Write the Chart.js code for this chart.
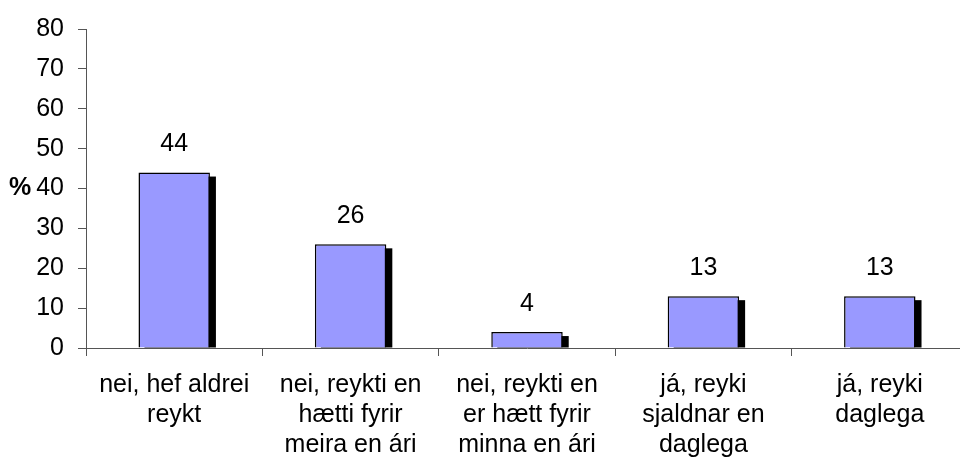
<!DOCTYPE html>
<html>
<head>
<meta charset="utf-8">
<script src="https://cdn.jsdelivr.net/npm/chart.js@4"></script>
<style>
  html, body { margin: 0; padding: 0; background: #fff; overflow: hidden; }
  #wrap { width: 968px; height: 464px; }
</style>
</head>
<body>
<div id="wrap"><canvas id="smoke_chart"></canvas></div>
<script>
var categories = [
    ['nei, hef aldrei', 'reykt'],
    ['nei, reykti en', 'hætti fyrir', 'meira en ári'],
    ['nei, reykti en', 'er hætt fyrir', 'minna en ári'],
    ['já, reyki', 'sjaldnar en', 'daglega'],
    ['já, reyki', 'daglega']
];
var values = [44, 26, 4, 13, 13];
var yTicks = [0, 10, 20, 30, 40, 50, 60, 70, 80];

var font = 'Liberation Sans, Arial, sans-serif';

// black drop shadow behind each bar
var shadowPlugin = {
    id: 'shadow',
    beforeDatasetsDraw: function (chart) {
        var c = chart.ctx;
        c.save();
        c.fillStyle = '#000';
        chart.getDatasetMeta(0).data.forEach(function (bar) {
            var left = bar.x - bar.width / 2;
            c.fillRect(left + 6, bar.y + 4, bar.width, bar.base - bar.y - 4);
        });
        c.restore();
    }
};

// value labels above bars and the "%" axis label
var labelPlugin = {
    id: 'labels',
    afterDatasetsDraw: function (chart) {
        var c = chart.ctx;
        c.save();
        c.fillStyle = '#000';
        c.font = '25px ' + font;
        c.textAlign = 'center';
        c.textBaseline = 'middle';
        chart.getDatasetMeta(0).data.forEach(function (bar, i) {
            c.fillText(values[i], bar.x, bar.y - 28);
        });
        var y = chart.scales.y.getPixelForValue(40);
        c.font = 'bold 25px ' + font;
        c.textAlign = 'left';
        c.fillText('%', 9, y);
        c.restore();
    }
};

var chart = new Chart(document.getElementById('smoke_chart').getContext('2d'), {
    type: 'bar',
    data: {
        labels: categories,
        datasets: [{
            data: values,
            backgroundColor: '#9999FF',
            borderColor: '#000',
            borderWidth: 1.5,
            barPercentage: 0.405,
            categoryPercentage: 1
        }]
    },
    options: {
        responsive: true,
        maintainAspectRatio: false,
        animation: false,
        layout: { padding: { top: 28, left: 0, right: 0, bottom: 0 } },
        plugins: {
            legend: { display: false },
            tooltip: { enabled: false }
        },
        scales: {
            x: {
                offset: true,
                grid: {
                    offset: true,
                    drawOnChartArea: false,
                    drawTicks: true,
                    tickLength: 8,
                    color: '#555'
                },
                border: { color: '#555', width: 1 },
                ticks: {
                    color: '#000',
                    font: { family: font, size: 25, lineHeight: 1.2 },
                    maxRotation: 0,
                    autoSkip: false,
                    padding: 14
                },
                afterFit: function (scale) { scale.height = 116; }
            },
            y: {
                min: 0,
                max: 80,
                afterBuildTicks: function (scale) {
                    scale.ticks = yTicks.map(function (v) { return { value: v }; });
                },
                grid: {
                    drawOnChartArea: false,
                    drawTicks: true,
                    tickLength: 8,
                    color: '#555'
                },
                border: { color: '#555', width: 1 },
                ticks: {
                    color: '#000',
                    font: { family: font, size: 25 },
                    padding: 14
                },
                afterFit: function (scale) { scale.width = 86; }
            }
        }
    },
    plugins: [shadowPlugin, labelPlugin]
});
</script>
</body>
</html>
